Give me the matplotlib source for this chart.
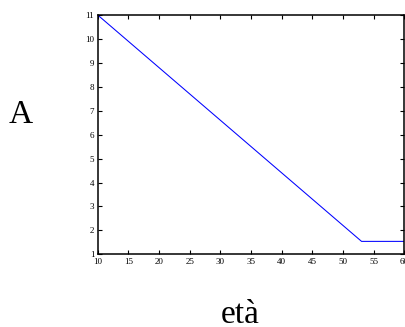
import matplotlib
matplotlib.use('Agg')
import matplotlib.pyplot as plt

plt.rcParams['font.family'] = ['Liberation Serif', 'DejaVu Serif']

# curve
eta = [10, 53, 60]
a_vals = [11, 1.54, 1.54]

xticks = [10, 15, 20, 25, 30, 35, 40, 45, 50, 55, 60]
yticks = [1, 2, 3, 4, 5, 6, 7, 8, 9, 10, 11]

fig = plt.figure(figsize=(4.06, 3.27), dpi=100)
ax = fig.add_axes([97.7 / 406, 1 - 254.3 / 327, (404.5 - 97.7) / 406, (254.3 - 15) / 327])

ax.plot(eta, a_vals, color='#0000ff', linewidth=0.75)

ax.set_xlim(10, 60)
ax.set_ylim(1, 11)
ax.set_xticks(xticks)
ax.set_yticks(yticks)
ax.tick_params(direction='in', length=3, width=0.8, labelsize=6.5,
               top=True, right=True, pad=2.5)
for s in ax.spines.values():
    s.set_linewidth(1.1)

fig.text(21 / 406, 1 - 115 / 327, 'A', fontsize=24, ha='center', va='center')
fig.text(240 / 406, 1 - 323 / 327, 'età', fontsize=24, ha='center', va='baseline')

fig.savefig('out.png', dpi=100)
